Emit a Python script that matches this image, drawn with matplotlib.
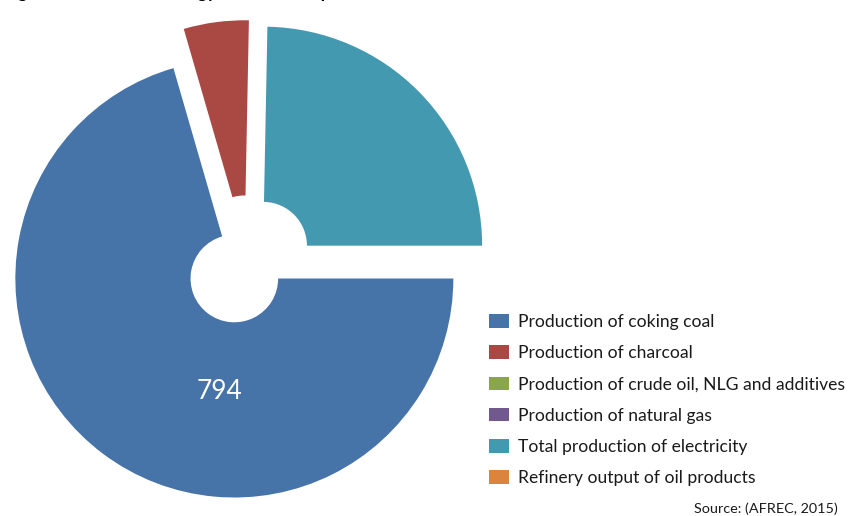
import matplotlib
matplotlib.use('Agg')
import matplotlib.pyplot as plt

plt.rcParams['font.family'] = ['Lato', 'DejaVu Sans']

# energy production by source (AFREC, 2015)
sources = ['Production of coking coal',
           'Production of charcoal',
           'Production of crude oil, NLG and additives',
           'Production of natural gas',
           'Total production of electricity',
           'Refinery output of oil products']
values = [794, 54, 0, 0, 278, 0]
colors = ['#4673a8', '#aa4844', '#89a54e', '#71588f', '#4399b0', '#db843d']
shown_label = '794'

W, H = 850, 516
cx, cy, R = 247.5, 261.0, 219.0  # pie centre and radius, pixels

fig = plt.figure(figsize=(W / 100, H / 100), dpi=100)
ax = fig.add_axes([0, 0, 1, 1])

wedges, _ = ax.pie(values, colors=colors, startangle=0, counterclock=False,
                   explode=[0.1] * len(values), radius=1.0,
                   wedgeprops=dict(width=0.8, linewidth=0))

ax.set_xlim(-cx / R, (W - cx) / R)
ax.set_ylim(-(H - cy) / R, cy / R)
ax.set_aspect('equal')
ax.axis('off')

ax.text(-0.126, -0.594, shown_label, color='white', fontsize=19,
        ha='center', va='center')

leg = ax.legend(wedges, sources, loc='upper left',
                bbox_to_anchor=(489 / W, 1 - 314 / H), bbox_transform=fig.transFigure,
                frameon=False, fontsize=12.6, handlelength=1.15, handleheight=0.8,
                handletextpad=0.5, labelspacing=0.87, borderpad=0, borderaxespad=0)
for t in leg.get_texts():
    t.set_color('#1a1a1a')

fig.text(838 / W, 1 - 509 / H, 'Source: (AFREC, 2015)', ha='right', va='center',
         fontsize=10.4, color='#1a1a1a')

# title sits above the crop, only the descenders show
fig.text(0.004, 1 + 2 / H, 'Figure 11: National energy balance and production',
         ha='left', va='baseline', fontsize=13, fontweight='bold')

fig.savefig('out.png', dpi=100)
